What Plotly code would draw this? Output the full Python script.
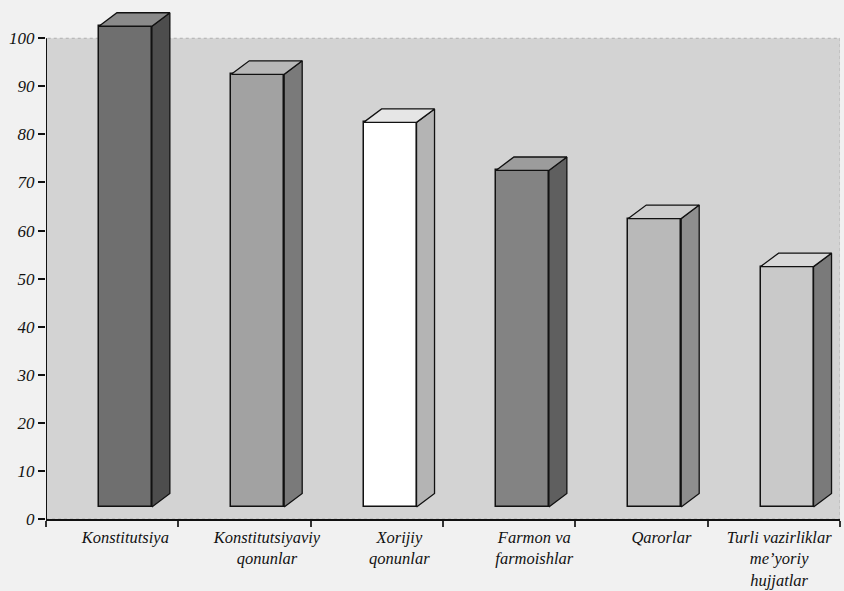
import plotly.graph_objects as go

categories = ["Konstitutsiya", "Konstitutsiyaviy<br>qonunlar", "Xorijiy<br>qonunlar",
              "Farmon va<br>farmoishlar", "Qarorlar", "Turli vazirliklar<br>me’yoriy<br>hujjatlar"]
values = [100, 90, 80, 70, 60, 50]
y_ticks = [0, 10, 20, 30, 40, 50, 60, 70, 80, 90, 100]

front_colors = ["#6f6f6f", "#a2a2a2", "#ffffff", "#838383", "#b9b9b9", "#c9c9c9"]
side_colors = ["#4d4d4d", "#7a7a7a", "#b4b4b4", "#5f5f5f", "#8e8e8e", "#7a7a7a"]
top_colors = ["#8a8a8a", "#b8b8b8", "#e6e6e6", "#9c9c9c", "#cccccc", "#d8d8d8"]
label_shift = [0.1, 0.17, 0.17, 0.19, 0.15, 0.04]

LIFT = 2.5       # 3D base lift
DX, DY = 0.136, 2.8  # depth offsets
W, OFF = 0.4, -0.1   # bar width and offset

xs = list(range(len(categories)))
fig = go.Figure()

# gray wall behind bars
fig.add_shape(type="rect", xref="x", yref="y", x0=-0.5, x1=5.5, y0=0, y1=100,
              fillcolor="#d3d3d3", line=dict(color="#b0b0b0", width=1, dash="dot"), layer="below")

fig.add_trace(go.Bar(x=xs, y=values, base=[LIFT]*len(values), width=W, offset=OFF,
                     marker=dict(color=front_colors, line=dict(color="#111111", width=1.5)),
                     showlegend=False, hoverinfo="skip"))

for i, v in enumerate(values):
    xr = i + OFF + W
    xl = i + OFF
    # side face
    fig.add_trace(go.Scatter(
        x=[xr, xr + DX, xr + DX, xr, xr],
        y=[LIFT, LIFT + DY, v + LIFT + DY, v + LIFT, LIFT],
        fill="toself", fillcolor=side_colors[i], mode="lines",
        line=dict(color="#111111", width=1.3), showlegend=False, hoverinfo="skip"))
    # top face
    fig.add_trace(go.Scatter(
        x=[xl, xr, xr + DX, xl + DX, xl],
        y=[v + LIFT, v + LIFT, v + LIFT + DY, v + LIFT + DY, v + LIFT],
        fill="toself", fillcolor=top_colors[i], mode="lines",
        line=dict(color="#111111", width=1.3), showlegend=False, hoverinfo="skip"))

# y axis line (0..100 only)
fig.add_shape(type="line", xref="x", yref="y", x0=-0.5, x1=-0.5, y0=0, y1=100,
              line=dict(color="#111111", width=2))

font = dict(family="Liberation Serif, Times New Roman, serif", color="#111111", style="italic")

fig.update_layout(
    width=844, height=591,
    margin=dict(l=46, r=4, t=7, b=72),
    paper_bgcolor="#f1f1f1", plot_bgcolor="#f1f1f1",
    bargap=0,
    xaxis=dict(range=[-0.5, 5.5], tickvals=[i + s for i, s in zip(xs, label_shift)],
               ticktext=categories, ticks="", automargin=False, ticklabelstandoff=2,
               showgrid=False, zeroline=False, showline=True, linecolor="#111111", linewidth=2,
               tickfont=dict(size=16.5, **font),
               minor=dict(tickvals=[-0.5, 0.5, 1.5, 2.5, 3.5, 4.5, 5.5], ticks="outside",
                          ticklen=6, tickcolor="#333333", tickwidth=1.5, showgrid=False)),
    yaxis=dict(range=[0, 106.5], tickvals=y_ticks, ticks="outside", ticklen=7, tickwidth=2,
               tickcolor="#111111", showgrid=False, zeroline=False, showline=False,
               automargin=False, tickfont=dict(size=17, **font)),
)

fig.write_html("out.html", config={"displayModeBar": False},
               post_script="document.body.style.margin='0';")
